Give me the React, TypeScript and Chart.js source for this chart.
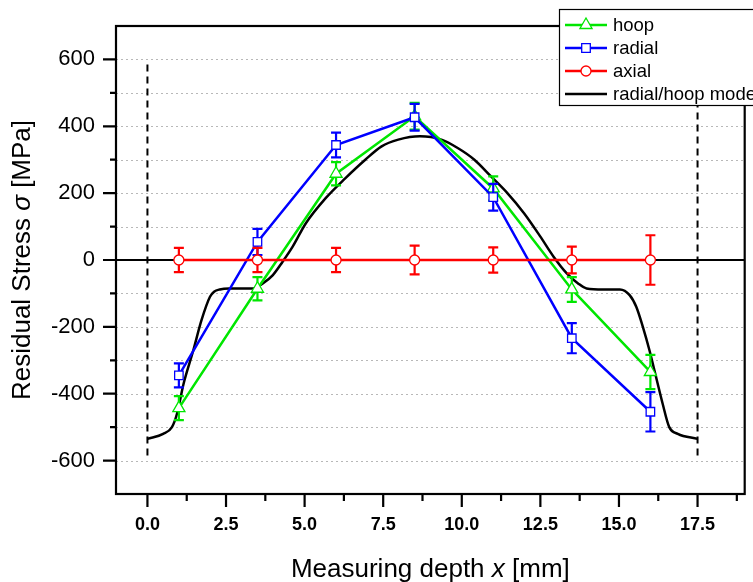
import React, { useEffect, useRef } from 'react';
import { Chart, registerables } from 'chart.js';

Chart.register(...registerables);

// ---- data ----
const positions = [1, 3.5, 6, 8.5, 11, 13.5, 16];
const hoopValues = [-443, -86, 258, 430, 214, -88, -335];
const hoopErrors = [36, 35, 35, 40, 36, 37, 51];
const radialValues = [-345, 54, 344, 427, 188, -234, -454];
const radialErrors = [36, 39, 37, 40, 40, 45, 59];
const axialValues = [0, 0, 0, 0, 0, 0, 0];
const axialErrors = [36, 36, 36, 43, 38, 40, 74];

const modelX = [0, 0.5, 0.78, 0.94, 1.15, 1.46, 1.72, 1.99, 2.12, 2.3, 2.6, 3.0, 3.36, 3.67, 3.99, 4.3, 4.62, 5.04, 5.67, 6.3, 6.93, 7.45, 7.98, 8.67, 9.35, 9.87, 10.4, 10.93, 11.45, 11.98, 12.5, 12.92, 13.34, 13.7, 13.97, 14.5, 15.03, 15.34, 15.55, 15.76, 15.97, 16.18, 16.39, 16.6, 16.87, 17.5];
const modelY = [-535, -520, -500, -460, -370, -270, -180, -110, -95, -88, -85, -85, -85, -70, -45, -5, 40, 110, 185, 245, 300, 340, 360, 370, 360, 335, 300, 250, 200, 140, 70, 10, -40, -70, -85, -88, -88, -105, -140, -200, -270, -350, -430, -500, -520, -535];

const xMajorTicks = [0, 2.5, 5, 7.5, 10, 12.5, 15, 17.5];
const xMinorTicks = [1.25, 3.75, 6.25, 8.75, 11.25, 13.75, 16.25, 18.75];
const yMajorTicks = [-600, -400, -200, 0, 200, 400, 600];
const yMinorTicks = [-500, -300, -100, 100, 300, 500];
const gridValues = [-600, -500, -400, -300, -200, -100, 100, 200, 300, 400, 500, 600];
const boundaryX = [0, 17.5];
const boundaryRange = [585, -600];

const GREEN = '#00e600';
const BLUE = '#0000ff';
const RED = '#ff0000';
const FONT = "'Liberation Sans', Arial, Helvetica, sans-serif";

const legendItems = [
  { label: 'hoop', color: GREEN, marker: 'triangle' },
  { label: 'radial', color: BLUE, marker: 'rect' },
  { label: 'axial', color: RED, marker: 'circle' },
  { label: 'radial/hoop mode', color: '#000', marker: null },
];

function drawMarker(ctx: CanvasRenderingContext2D, kind: string | null, cx: number, cy: number, color: string) {
  if (!kind) return;
  ctx.save();
  ctx.fillStyle = '#fff';
  ctx.strokeStyle = color;
  ctx.lineWidth = 1.3;
  ctx.setLineDash([]);
  ctx.beginPath();
  if (kind === 'triangle') {
    const r = 7;
    ctx.moveTo(cx, cy - r);
    ctx.lineTo(cx + r * Math.sin(2 * Math.PI / 3), cy - r * Math.cos(2 * Math.PI / 3));
    ctx.lineTo(cx + r * Math.sin(4 * Math.PI / 3), cy - r * Math.cos(4 * Math.PI / 3));
    ctx.closePath();
  } else if (kind === 'rect') {
    const s = 4.3;
    ctx.rect(cx - s, cy - s, 2 * s, 2 * s);
  } else {
    ctx.arc(cx, cy, 5, 0, Math.PI * 2);
  }
  ctx.fill();
  ctx.stroke();
  ctx.restore();
}

const customPlugin = {
  id: 'customDecor',
  beforeDatasetsDraw(chart: any) {
    const { ctx, chartArea: a, scales } = chart;
    const x = scales.x, y = scales.y;
    ctx.save();
    ctx.strokeStyle = '#b8b8b8';
    ctx.lineWidth = 1;
    ctx.setLineDash([2, 3]);
    for (const v of gridValues) {
      const py = Math.round(y.getPixelForValue(v)) + 0.5;
      ctx.beginPath();
      ctx.moveTo(a.left, py);
      ctx.lineTo(a.right, py);
      ctx.stroke();
    }
    ctx.strokeStyle = '#000';
    ctx.lineWidth = 2;
    ctx.setLineDash([7, 5]);
    for (const v of boundaryX) {
      const px = x.getPixelForValue(v);
      ctx.beginPath();
      ctx.moveTo(px, y.getPixelForValue(boundaryRange[0]));
      ctx.lineTo(px, y.getPixelForValue(boundaryRange[1]));
      ctx.stroke();
    }
    ctx.setLineDash([]);
    const zy = y.getPixelForValue(0);
    ctx.beginPath();
    ctx.moveTo(a.left, zy);
    ctx.lineTo(a.right, zy);
    ctx.stroke();
    ctx.restore();
  },
  beforeDatasetDraw(chart: any, args: any) {
    const ds = chart.data.datasets[args.index];
    if (!ds.errors) return;
    const { ctx, scales } = chart;
    const y = scales.y;
    const meta = chart.getDatasetMeta(args.index);
    ctx.save();
    ctx.strokeStyle = ds.borderColor;
    ctx.lineWidth = 2.2;
    ctx.setLineDash([]);
    meta.data.forEach((pt: any, j: number) => {
      const v = ds.data[j].y;
      const e = ds.errors[j];
      const top = y.getPixelForValue(v + e);
      const bot = y.getPixelForValue(v - e);
      ctx.beginPath();
      ctx.moveTo(pt.x, top);
      ctx.lineTo(pt.x, bot);
      ctx.moveTo(pt.x - 5, top);
      ctx.lineTo(pt.x + 5, top);
      ctx.moveTo(pt.x - 5, bot);
      ctx.lineTo(pt.x + 5, bot);
      ctx.stroke();
    });
    ctx.restore();
  },
  afterDatasetsDraw(chart: any) {
    const { ctx, chartArea: a, scales } = chart;
    const x = scales.x, y = scales.y;
    ctx.save();
    ctx.setLineDash([]);
    ctx.strokeStyle = '#000';
    ctx.lineWidth = 2.2;
    ctx.strokeRect(a.left, a.top, a.right - a.left, a.bottom - a.top);
    ctx.beginPath();
    for (const v of yMajorTicks) {
      const py = y.getPixelForValue(v);
      ctx.moveTo(a.left - 13, py);
      ctx.lineTo(a.left, py);
    }
    for (const v of yMinorTicks) {
      const py = y.getPixelForValue(v);
      ctx.moveTo(a.left - 6, py);
      ctx.lineTo(a.left, py);
    }
    for (const v of xMajorTicks) {
      const px = x.getPixelForValue(v);
      ctx.moveTo(px, a.bottom);
      ctx.lineTo(px, a.bottom + 13);
    }
    for (const v of xMinorTicks) {
      const px = x.getPixelForValue(v);
      ctx.moveTo(px, a.bottom);
      ctx.lineTo(px, a.bottom + 7);
    }
    ctx.stroke();

    // legend
    const lx = 559, ly = 9, lh = 96;
    ctx.fillStyle = '#fff';
    ctx.fillRect(lx, ly, 220, lh);
    ctx.strokeStyle = '#000';
    ctx.lineWidth = 1.2;
    ctx.strokeRect(lx + 0.5, ly + 0.5, 220, lh);
    const rows = [25, 48, 71, 94];
    ctx.font = `18.5px ${FONT}`;
    ctx.textBaseline = 'middle';
    ctx.textAlign = 'left';
    legendItems.forEach((it, i) => {
      const cy = rows[i];
      ctx.strokeStyle = it.color;
      ctx.lineWidth = 2.4;
      ctx.beginPath();
      ctx.moveTo(565, cy);
      ctx.lineTo(607, cy);
      ctx.stroke();
      drawMarker(ctx, it.marker, 586, cy, it.color);
      ctx.fillStyle = '#000';
      ctx.fillText(it.label, 613, cy + 1);
    });
    ctx.restore();
  },
  afterDraw(chart: any) {
    const { ctx, chartArea: a } = chart;
    ctx.save();
    ctx.fillStyle = '#000';
    ctx.textBaseline = 'alphabetic';
    ctx.textAlign = 'left';
    const normal = `26px ${FONT}`;
    const italic = `italic 26px ${FONT}`;
    const xParts = [
      { t: 'Measuring depth ', f: normal },
      { t: 'x', f: italic },
      { t: ' [mm]', f: normal },
    ];
    let total = 0;
    for (const p of xParts) { ctx.font = p.f; total += ctx.measureText(p.t).width; }
    let cx = (a.left + a.right) / 2 - total / 2;
    for (const p of xParts) { ctx.font = p.f; ctx.fillText(p.t, cx, 577); cx += ctx.measureText(p.t).width; }
    const yParts = [
      { t: 'Residual Stress ', f: normal },
      { t: 'σ', f: italic },
      { t: ' [MPa]', f: normal },
    ];
    total = 0;
    for (const p of yParts) { ctx.font = p.f; total += ctx.measureText(p.t).width; }
    ctx.translate(30, (a.top + a.bottom) / 2);
    ctx.rotate(-Math.PI / 2);
    let cy = -total / 2;
    for (const p of yParts) { ctx.font = p.f; ctx.fillText(p.t, cy, 0); cy += ctx.measureText(p.t).width; }
    ctx.restore();
  },
};

export default function App() {
  const ref = useRef<HTMLCanvasElement | null>(null);
  useEffect(() => {
    document.body.style.margin = '0';
    const canvas = ref.current;
    if (!canvas) return;
    const pts = (vals: number[]) => positions.map((p, i) => ({ x: p, y: vals[i] }));
    const chart = new Chart(canvas, {
      type: 'line',
      data: {
        datasets: [
          {
            label: 'axial', data: pts(axialValues), errors: axialErrors,
            borderColor: RED, backgroundColor: '#fff', borderWidth: 2.5,
            pointStyle: 'circle', pointRadius: 5, pointBorderWidth: 1.3,
            pointBackgroundColor: '#fff', pointBorderColor: RED,
          } as any,
          {
            label: 'radial', data: pts(radialValues), errors: radialErrors,
            borderColor: BLUE, backgroundColor: '#fff', borderWidth: 2.5,
            pointStyle: 'rect', pointRadius: 6, pointBorderWidth: 1.3,
            pointBackgroundColor: '#fff', pointBorderColor: BLUE,
          } as any,
          {
            label: 'hoop', data: pts(hoopValues), errors: hoopErrors,
            borderColor: GREEN, backgroundColor: '#fff', borderWidth: 2.5,
            pointStyle: 'triangle', pointRadius: 7, pointBorderWidth: 1.3,
            pointBackgroundColor: '#fff', pointBorderColor: GREEN,
          } as any,
          {
            label: 'radial/hoop mode', data: modelX.map((v, i) => ({ x: v, y: modelY[i] })),
            borderColor: '#000', borderWidth: 2.5, pointRadius: 0,
            cubicInterpolationMode: 'monotone',
          } as any,
        ],
      },
      options: {
        animation: false,
        responsive: false,
        devicePixelRatio: 1,
        layout: { padding: { top: 26, right: 5, left: 0, bottom: 0 } },
        plugins: { legend: { display: false }, tooltip: { enabled: false }, title: { display: false } },
        scales: {
          x: {
            type: 'linear', min: -1, max: 19,
            afterBuildTicks: (s: any) => { s.ticks = xMajorTicks.map((v) => ({ value: v })); },
            afterFit: (s: any) => { s.height = 88; s.paddingLeft = 0; s.paddingRight = 0; },
            grid: { display: false, drawTicks: false }, border: { display: false },
            ticks: {
              autoSkip: false, maxRotation: 0, padding: 20, color: '#000',
              font: { family: FONT, size: 18, weight: 'bold' },
              callback: (v: any) => Number(v).toFixed(1),
            },
          },
          y: {
            type: 'linear', min: -700, max: 700,
            afterBuildTicks: (s: any) => { s.ticks = yMajorTicks.map((v) => ({ value: v })); },
            afterFit: (s: any) => { s.width = 116; s.paddingTop = 0; s.paddingBottom = 0; },
            grid: { display: false, drawTicks: false }, border: { display: false },
            ticks: {
              padding: 21, color: '#000',
              font: { family: FONT, size: 22 },
              callback: (v: any) => String(v),
            },
          },
        },
      } as any,
      plugins: [customPlugin],
    });
    return () => chart.destroy();
  }, []);
  return <canvas ref={ref} width={753} height={582} style={{ display: 'block' }} />;
}
